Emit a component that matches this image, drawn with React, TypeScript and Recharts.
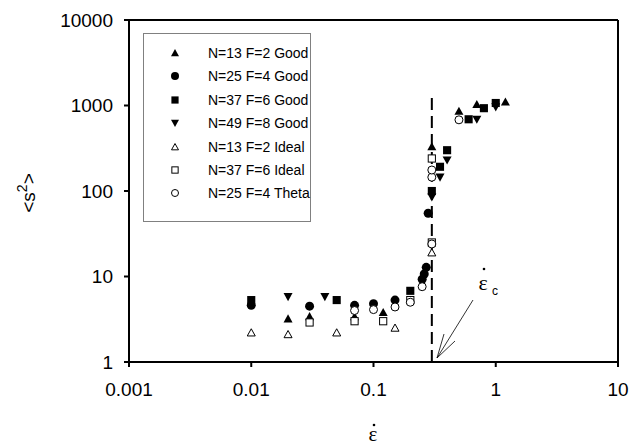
import React from 'react';
import { ScatterChart, Scatter, XAxis, YAxis, ReferenceLine } from 'recharts';

// strain-rate ticks / <s^2> ticks
const xTicks = [0.001, 0.01, 0.1, 1, 10];
const yTicks = [1, 10, 100, 1000, 10000];

// N=13 F=2 Good
const n13GoodX = [0.02, 0.03, 0.07, 0.12, 0.3, 0.5, 0.7, 1.2];
const n13GoodY = [3.2, 3.4, 3.4, 3.8, 330, 860, 1030, 1100];
// N=25 F=4 Good
const n25GoodX = [0.01, 0.03, 0.07, 0.1, 0.15, 0.25, 0.26, 0.27, 0.28];
const n25GoodY = [4.6, 4.5, 4.6, 4.8, 5.3, 9.3, 10.7, 12.8, 55];
// N=37 F=6 Good
const n37GoodX = [0.01, 0.05, 0.2, 0.3, 0.35, 0.4, 0.6, 0.8, 1.0];
const n37GoodY = [5.3, 5.3, 6.8, 100, 192, 300, 690, 930, 1070];
// N=49 F=8 Good
const n49GoodX = [0.02, 0.04, 0.3, 0.35, 0.4, 0.7, 1.0];
const n49GoodY = [5.8, 5.8, 85, 145, 230, 690, 960];
// N=13 F=2 Ideal
const n13IdealX = [0.01, 0.02, 0.05, 0.15, 0.3];
const n13IdealY = [2.2, 2.1, 2.2, 2.5, 19];
// N=37 F=6 Ideal
const n37IdealX = [0.03, 0.07, 0.12, 0.2, 0.3, 0.3];
const n37IdealY = [2.9, 3.0, 3.0, 5.3, 25, 240];
// N=25 F=4 Theta
const n25ThetaX = [0.07, 0.1, 0.15, 0.2, 0.25, 0.3, 0.3, 0.3, 0.5];
const n25ThetaY = [4.0, 4.1, 4.4, 5.0, 7.6, 24, 145, 176, 680];

const zip = (xs, ys) => xs.map((x, i) => ({ x, y: ys[i] }));

const SERIES = [
  { name: 'N=13 F=2 Good', kind: 'up', filled: true, data: zip(n13GoodX, n13GoodY) },
  { name: 'N=25 F=4 Good', kind: 'circle', filled: true, data: zip(n25GoodX, n25GoodY) },
  { name: 'N=37 F=6 Good', kind: 'square', filled: true, data: zip(n37GoodX, n37GoodY) },
  { name: 'N=49 F=8 Good', kind: 'down', filled: true, data: zip(n49GoodX, n49GoodY) },
  { name: 'N=13 F=2 Ideal', kind: 'up', filled: false, data: zip(n13IdealX, n13IdealY) },
  { name: 'N=37 F=6 Ideal', kind: 'square', filled: false, data: zip(n37IdealX, n37IdealY) },
  { name: 'N=25 F=4 Theta', kind: 'circle', filled: false, data: zip(n25ThetaX, n25ThetaY) },
];

const FONT = 'Arial, "Liberation Sans", sans-serif';
const SERIF = '"Liberation Serif", "DejaVu Serif", serif';

const Marker = ({ kind, filled, cx, cy, s }) => {
  const fill = filled ? '#000' : '#fff';
  const stroke = filled ? 'none' : '#000';
  const sw = filled ? 0 : 1;
  if (kind === 'circle') {
    return <circle cx={cx} cy={cy} r={s / 2} fill={fill} stroke={stroke} strokeWidth={sw} />;
  }
  if (kind === 'square') {
    const a = s * 0.9;
    return <rect x={cx - a / 2} y={cy - a / 2} width={a} height={a} fill={fill} stroke={stroke} strokeWidth={sw} />;
  }
  const h = s * 0.9;
  const pts = kind === 'up'
    ? `${cx},${cy - h * 0.55} ${cx + s / 2},${cy + h * 0.45} ${cx - s / 2},${cy + h * 0.45}`
    : `${cx},${cy + h * 0.55} ${cx + s / 2},${cy - h * 0.45} ${cx - s / 2},${cy - h * 0.45}`;
  return <polygon points={pts} fill={fill} stroke={stroke} strokeWidth={sw} />;
};

const makeShape = (kind, filled) => (props: any) => (
  <Marker kind={kind} filled={filled} cx={props.cx} cy={props.cy} s={filled ? 9 : 8} />
);

const tickStyle = { fontSize: 19, fill: '#000', fontFamily: FONT };

export default function App() {
  return (
    <div style={{ position: 'absolute', left: 0, top: 0, width: 642, height: 446, background: '#fff' }}>
      <ScatterChart width={642} height={446} margin={{ top: 20, right: 24, bottom: 54, left: 0 }}>
        <XAxis
          type="number"
          dataKey="x"
          scale="log"
          domain={[0.001, 10]}
          ticks={xTicks}
          allowDataOverflow
          tickFormatter={(v) => String(v)}
          axisLine={{ stroke: '#000', strokeWidth: 2 }}
          tickLine={{ stroke: '#000', strokeWidth: 2 }}
          tickSize={5}
          tickMargin={16}
          height={30}
          tick={tickStyle}
          interval={0}
        />
        <YAxis
          type="number"
          dataKey="y"
          scale="log"
          domain={[1, 10000]}
          ticks={yTicks}
          allowDataOverflow
          tickFormatter={(v) => String(v)}
          axisLine={{ stroke: '#000', strokeWidth: 2 }}
          tickLine={{ stroke: '#000', strokeWidth: 2 }}
          tickSize={5}
          tickMargin={11}
          width={129}
          tick={tickStyle}
          interval={0}
        />
        <ReferenceLine y={10000} stroke="#000" strokeWidth={2} />
        <ReferenceLine x={10} stroke="#000" strokeWidth={2} />
        <ReferenceLine
          segment={[{ x: 0.3, y: 1 }, { x: 0.3, y: 1300 }]}
          stroke="#000"
          strokeWidth={2}
          strokeDasharray="12 6"
        />
        {SERIES.map((s) => (
          <Scatter
            key={s.name}
            name={s.name}
            data={s.data}
            shape={makeShape(s.kind, s.filled)}
            isAnimationActive={false}
          />
        ))}
      </ScatterChart>

      {/* legend */}
      <div
        style={{
          position: 'absolute', left: 143, top: 33, width: 168, height: 189,
          border: '1px solid #808080', boxSizing: 'border-box', background: '#fff',
        }}
      >
        {SERIES.map((s, i) => (
          <div key={s.name} style={{ position: 'absolute', left: 0, top: 8 + i * 23.4, height: 22, display: 'flex', alignItems: 'center' }}>
            <svg width={64} height={22} style={{ display: 'block' }}>
              <Marker kind={s.kind} filled={s.filled} cx={31} cy={11} s={s.filled ? 8 : 7} />
            </svg>
            <span style={{ fontFamily: FONT, fontSize: 14, color: '#000', whiteSpace: 'nowrap' }}>{s.name}</span>
          </div>
        ))}
      </div>

      {/* axis titles and annotation */}
      <svg width={642} height={446} style={{ position: 'absolute', left: 0, top: 0, pointerEvents: 'none' }}>
        <text transform="translate(35,193) rotate(-90)" textAnchor="middle" fontFamily={FONT} fontSize={19} fill="#000">
          {'<s'}
          <tspan dy={-8} fontSize={14}>2</tspan>
          <tspan dy={8}>{'>'}</tspan>
        </text>
        <text x={373} y={441} textAnchor="middle" fontFamily={SERIF} fontSize={21} fill="#000">ε</text>
        <circle cx={374} cy={425} r={1.3} fill="#000" />
        <text x={483} y={290} textAnchor="middle" fontFamily={SERIF} fontSize={22} fill="#000">ε</text>
        <circle cx={484} cy={269} r={1.3} fill="#000" />
        <text x={492} y={295} fontFamily={FONT} fontSize={12} fill="#000">c</text>
        <line x1={437} y1={358} x2={473} y2={300} stroke="#000" strokeWidth={0.8} />
        <line x1={437} y1={358} x2={455} y2={341} stroke="#000" strokeWidth={0.8} />
        <line x1={437} y1={358} x2={444} y2={334} stroke="#000" strokeWidth={0.8} />
      </svg>
    </div>
  );
}
